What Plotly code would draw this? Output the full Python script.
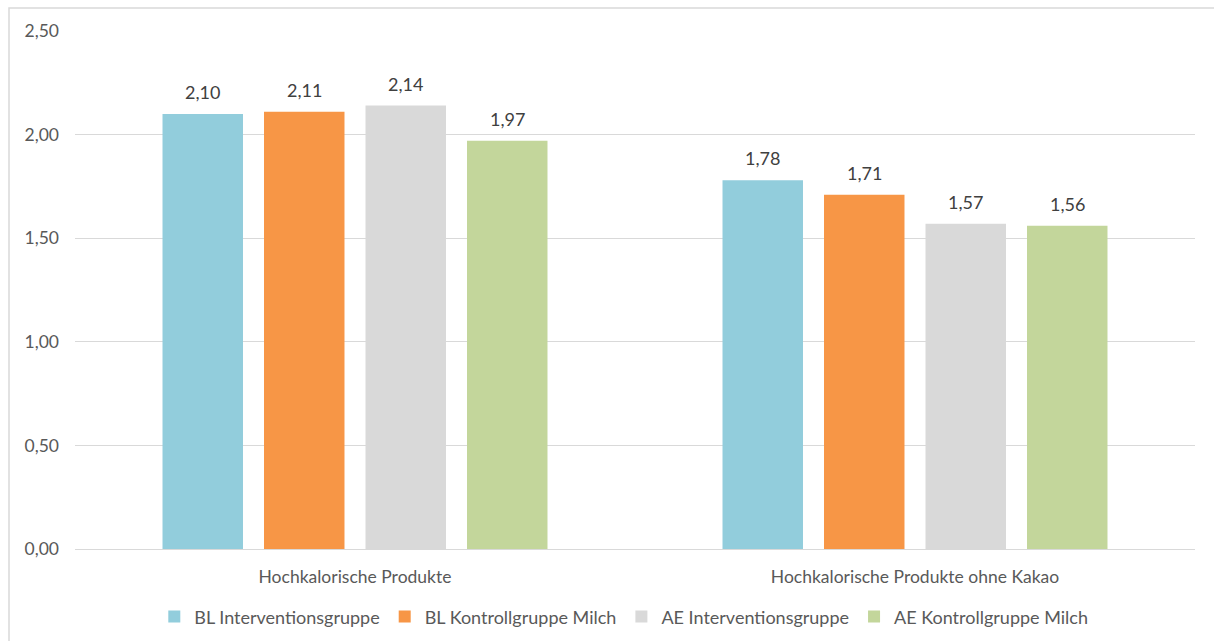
import plotly.graph_objects as go

categories = ["Hochkalorische Produkte", "Hochkalorische Produkte ohne Kakao"]
series_names = ["BL Interventionsgruppe", "BL Kontrollgruppe Milch",
                "AE Interventionsgruppe", "AE Kontrollgruppe Milch"]
bl_intervention = [2.10, 1.78]
bl_kontroll = [2.11, 1.71]
ae_intervention = [2.14, 1.57]
ae_kontroll = [1.97, 1.56]
series_values = [bl_intervention, bl_kontroll, ae_intervention, ae_kontroll]
colors = ["#92CDDC", "#F79646", "#D9D9D9", "#C3D69B"]
y_ticks = [0, 0.5, 1.0, 1.5, 2.0, 2.5]

FONT = "Lato, Carlito, Calibri, sans-serif"
TXT = "#595959"
FS = 18

PLOT_W = 1120
BARGAP = 0.275
BARGROUPGAP = 0.207
n_series = len(series_names)
slot = PLOT_W / len(categories) * (1 - BARGAP) / n_series

fig = go.Figure()
annotations = []
for i, (name, vals, col) in enumerate(zip(series_names, series_values, colors)):
    fig.add_trace(go.Bar(
        name=name, x=categories, y=vals, marker=dict(color=col, line=dict(width=0)),
    ))
    for cat, v in zip(categories, vals):
        annotations.append(dict(
            x=cat, y=v, xref="x", yref="y", text=f"{v:.2f}".replace(".", ","),
            showarrow=False, xanchor="center", yanchor="bottom",
            xshift=(i - (n_series - 1) / 2) * slot, yshift=9,
            font=dict(family=FONT, size=FS, color="#404040"),
        ))

fig.update_layout(
    width=1214, height=641,
    margin=dict(l=75, r=19, t=31, b=92, autoexpand=False),
    paper_bgcolor="white", plot_bgcolor="white",
    barmode="group", bargap=BARGAP, bargroupgap=BARGROUPGAP,
    separators=",.",
    font=dict(family=FONT, size=FS, color=TXT),
    showlegend=True,
    legend=dict(orientation="h", x=0.49, xanchor="center", y=-0.131, yanchor="middle",
                font=dict(family=FONT, size=FS, color=TXT), itemwidth=30,
                traceorder="normal"),
    xaxis=dict(showgrid=False, showline=True, linecolor="#D9D9D9", linewidth=1,
               ticks="", ticklabelstandoff=12,
               tickfont=dict(family=FONT, size=17.5, color=TXT)),
    yaxis=dict(range=[0, 2.5], tickvals=y_ticks, tickformat=".2f",
               showgrid=True, gridcolor="#D9D9D9", gridwidth=1, zeroline=False,
               showline=False, ticks="", ticklabelstandoff=15,
               tickfont=dict(family=FONT, size=17.5, color=TXT)),
    annotations=annotations,
    shapes=[dict(type="rect", xref="paper", yref="paper",
                 x0=-66/1120, x1=1.2, y0=-0.4, y1=1 + 23/518,
                 line=dict(color="#D9D9D9", width=1.5), fillcolor="rgba(0,0,0,0)",
                 layer="below")],
)

fig.write_html("out.html")
